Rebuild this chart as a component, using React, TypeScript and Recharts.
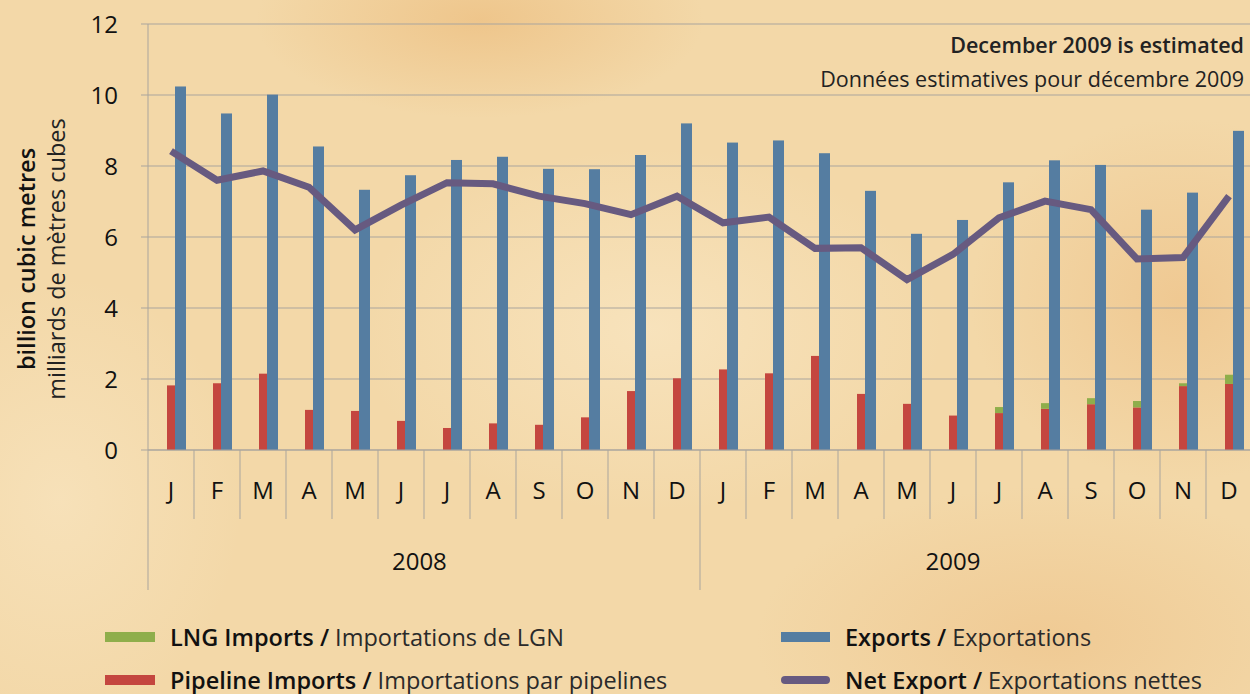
import { Bar, CartesianGrid, ComposedChart, Line, XAxis, YAxis } from "recharts"

const MONTHS = ["J", "F", "M", "A", "M", "J", "J", "A", "S", "O", "N", "D",
                "J", "F", "M", "A", "M", "J", "J", "A", "S", "O", "N", "D"]
// year label sits under this month; shift is in half-month units
const YEAR_LABELS = [
  { index: 5, label: "2008", shift: 0.8 },
  { index: 17, label: "2009", shift: 0 },
]
const Y_TICKS = [0, 2, 4, 6, 8, 10, 12]

const EXPORTS = [10.24, 9.48, 10.01, 8.55, 7.33, 7.74, 8.17, 8.26, 7.92, 7.91, 8.31, 9.2,
                 8.66, 8.72, 8.36, 7.3, 6.09, 6.48, 7.54, 8.16, 8.03, 6.77, 7.25, 8.99]
const PIPELINE = [1.82, 1.88, 2.15, 1.13, 1.1, 0.82, 0.62, 0.75, 0.71, 0.92, 1.66, 2.02,
                  2.27, 2.16, 2.65, 1.58, 1.3, 0.97, 1.04, 1.16, 1.29, 1.2, 1.8, 1.86]
const LNG = [0, 0, 0, 0, 0, 0, 0, 0, 0, 0, 0, 0,
             0, 0, 0, 0, 0, 0, 0.17, 0.16, 0.17, 0.18, 0.08, 0.26]
const NET = [8.42, 7.6, 7.86, 7.4, 6.2, 6.9, 7.53, 7.5, 7.15, 6.94, 6.63, 7.15,
             6.4, 6.56, 5.68, 5.7, 4.8, 5.51, 6.54, 7.01, 6.77, 5.38, 5.42, 7.15]

const data = MONTHS.map((m, i) => ({
  month: m,
  pipeline: PIPELINE[i],
  lng: LNG[i],
  exports: EXPORTS[i],
  net: NET[i],
}))

const FONT = "'Open Sans', sans-serif"
const GRID = "#aaa59d"
const BLUE = "#557da1"
const RED = "#c4463f"
const GREEN = "#8fae4b"
const PURPLE = "#675a80"
const TICK = { fontSize: 24, fill: "#111", fontFamily: FONT }

// bars sit a little right of the month centre in the original
const ShiftedBar = (p: any) => (
  <rect x={p.x + 5} y={p.y} width={p.width} height={Math.max(0, p.height)} fill={p.fill} />
)

// month letter + divider at the left edge of each month band, year label under the group
function MonthTick(p: any) {
  const half = p.payload?.offset ?? 23
  const edge = p.x - half
  const isYearStart = p.index % 12 === 0
  const year = YEAR_LABELS.find(y => y.index === p.index)
  return (
    <g>
      <line x1={edge} x2={edge} y1={p.y} y2={p.y + (isYearStart ? 140 : 69)} stroke={GRID} />
      <text x={p.x} y={p.y + 49} textAnchor="middle" {...TICK}>{p.payload.value}</text>
      {year && (
        <text x={p.x + year.shift * half} y={p.y + 120} textAnchor="middle" {...TICK}>{year.label}</text>
      )}
    </g>
  )
}

function LegendItem({ left, top, label, sub, swatch }: {
  left: number; top: number; label: string; sub: string; swatch: React.ReactNode
}) {
  return (
    <div style={{ position: "absolute", left, top, display: "flex", alignItems: "center", whiteSpace: "nowrap", lineHeight: "26px" }}>
      {swatch}
      <span style={{ fontSize: 23.5, color: "#111", fontWeight: 600, marginLeft: 15 }}>{label} /</span>
      <span style={{ fontSize: 23.5, color: "#2a2a2a", marginLeft: 6 }}>{sub}</span>
    </div>
  )
}

const box = (color: string, w: number, h: number, round = false) => (
  <div style={{ width: w, height: h, background: color, borderRadius: round ? h / 2 : 0 }} />
)

export default function App() {
  return (
    <div
      style={{
        position: "absolute",
        left: 0,
        top: 0,
        width: 1250,
        height: 694,
        overflow: "hidden",
        fontFamily: FONT,
        background: [
          "radial-gradient(ellipse 320px 140px at 480px 20px, rgba(235,185,120,0.6), transparent 70%)",
          "radial-gradient(ellipse 300px 260px at 1180px 300px, rgba(236,188,128,0.55), transparent 70%)",
          "radial-gradient(ellipse 420px 220px at 1050px 640px, rgba(236,188,128,0.5), transparent 70%)",
          "radial-gradient(ellipse 420px 260px at 650px 330px, rgba(250,232,198,0.65), transparent 70%)",
          "radial-gradient(ellipse 260px 320px at 60px 500px, rgba(250,232,198,0.55), transparent 70%)",
          "#f3d8a8",
        ].join(","),
      }}
    >
      <ComposedChart
        width={1256}
        height={600}
        data={data}
        margin={{ top: 24, right: 4, bottom: 149, left: 0 }}
        barGap={0}
        style={{ fontFamily: FONT, overflow: "visible" }}
      >
        <CartesianGrid vertical={false} stroke={GRID} strokeWidth={1} />
        <XAxis
          dataKey="month"
          interval={0}
          height={1}
          tickSize={0}
          tickMargin={0}
          tickLine={false}
          axisLine={{ stroke: GRID }}
          tick={<MonthTick />}
        />
        <YAxis
          width={148}
          domain={[0, 12]}
          ticks={Y_TICKS}
          interval={0}
          tickSize={7}
          tickMargin={23}
          tickLine={{ stroke: GRID }}
          axisLine={{ stroke: GRID }}
          tick={TICK}
        />
        <Bar dataKey="pipeline" stackId="imp" barSize={8} fill={RED} shape={ShiftedBar} isAnimationActive={false} />
        <Bar dataKey="lng" stackId="imp" barSize={8} fill={GREEN} shape={ShiftedBar} isAnimationActive={false} />
        <Bar dataKey="exports" barSize={11} fill={BLUE} shape={ShiftedBar} isAnimationActive={false} />
        <Line
          type="linear"
          dataKey="net"
          stroke={PURPLE}
          strokeWidth={7}
          dot={false}
          activeDot={false}
          isAnimationActive={false}
        />
      </ComposedChart>

      <svg width={120} height={600} style={{ position: "absolute", left: 0, top: 0 }}>
        <text x={35} y={259} transform="rotate(-90 35 259)" textAnchor="middle"
          fontSize={23.5} fontWeight={600} fill="#111" fontFamily={FONT}>
          billion cubic metres
        </text>
        <text x={65} y={259} transform="rotate(-90 65 259)" textAnchor="middle"
          fontSize={23.5} fill="#222" fontFamily={FONT}>
          milliards de mètres cubes
        </text>
      </svg>

      <div style={{ position: "absolute", right: 6, top: 28, textAlign: "right", color: "#222", lineHeight: "34px" }}>
        <div style={{ fontSize: 21.5, fontWeight: 600 }}>December 2009 is estimated</div>
        <div style={{ fontSize: 21.5 }}>Données estimatives pour décembre 2009</div>
      </div>

      <LegendItem left={105} top={624} label="LNG Imports" sub="Importations de LGN" swatch={box(GREEN, 50, 10)} />
      <LegendItem left={105} top={667} label="Pipeline Imports" sub="Importations par pipelines" swatch={box(RED, 50, 10)} />
      <LegendItem left={781} top={624} label="Exports" sub="Exportations" swatch={box(BLUE, 49, 10)} />
      <LegendItem left={781} top={667} label="Net Export" sub="Exportations nettes" swatch={box(PURPLE, 49, 8, true)} />
    </div>
  )
}
